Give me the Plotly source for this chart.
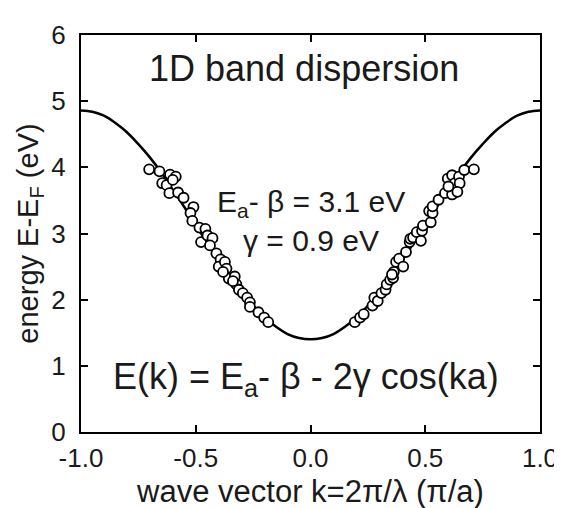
import plotly.graph_objects as go

# fitted band curve
k_curve = [-1.0, -0.95, -0.9, -0.85, -0.8, -0.75, -0.7, -0.65, -0.6, -0.55, -0.5,
           -0.45, -0.4, -0.35, -0.3, -0.25, -0.2, -0.15, -0.1, -0.05, 0.0,
           0.05, 0.1, 0.15, 0.2, 0.25, 0.3, 0.35, 0.4, 0.45, 0.5,
           0.55, 0.6, 0.65, 0.7, 0.75, 0.8, 0.85, 0.9, 0.95, 1.0]
E_curve = [4.86, 4.84, 4.78, 4.67, 4.53, 4.35, 4.15, 3.92, 3.66, 3.40, 3.13,
           2.86, 2.60, 2.34, 2.11, 1.91, 1.73, 1.59, 1.48, 1.42, 1.40,
           1.42, 1.48, 1.59, 1.73, 1.91, 2.11, 2.34, 2.60, 2.86, 3.13,
           3.40, 3.66, 3.92, 4.15, 4.35, 4.53, 4.67, 4.78, 4.84, 4.86]

# measured points (open circles)
k_left = [-0.703, -0.658, -0.612, -0.587, -0.646, -0.627, -0.600, -0.615, -0.577, -0.553,
          -0.510, -0.523, -0.515, -0.484, -0.458, -0.477, -0.449, -0.427, -0.438, -0.410,
          -0.392, -0.400, -0.373, -0.366, -0.356, -0.330, -0.323, -0.312, -0.295, -0.276,
          -0.264, -0.264, -0.227, -0.202, -0.184, -0.381, -0.338]
E_left = [3.97, 3.94, 3.89, 3.86, 3.76, 3.73, 3.81, 3.61, 3.62, 3.54,
          3.40, 3.31, 3.19, 3.09, 3.07, 2.87, 2.97, 2.93, 2.82, 2.70,
          2.61, 2.50, 2.57, 2.47, 2.32, 2.35, 2.23, 2.15, 2.10, 2.03,
          1.96, 1.89, 1.81, 1.73, 1.66, 2.42, 2.28]
k_right = [0.193, 0.216, 0.232, 0.270, 0.278, 0.293, 0.309, 0.327, 0.332, 0.347,
           0.363, 0.360, 0.373, 0.386, 0.404, 0.416, 0.432, 0.435, 0.447, 0.463,
           0.486, 0.490, 0.481, 0.517, 0.524, 0.532, 0.532, 0.558, 0.586, 0.617,
           0.598, 0.617, 0.629, 0.647, 0.650, 0.640, 0.670, 0.712, 0.601, 0.355]
E_right = [1.66, 1.73, 1.78, 1.91, 2.03, 1.98, 2.10, 2.15, 2.23, 2.30,
           2.42, 2.33, 2.57, 2.62, 2.50, 2.72, 2.87, 2.92, 2.94, 3.02,
           3.04, 3.12, 2.89, 3.34, 3.17, 3.31, 3.41, 3.51, 3.61, 3.59,
           3.83, 3.88, 3.76, 3.86, 3.76, 3.63, 3.96, 3.97, 3.71, 2.38]

x_ticks = [-1.0, -0.5, 0.0, 0.5, 1.0]
x_tick_labels = ["-1.0", "-0.5", "0.0", "0.5", "1.0"]
y_ticks = [0, 1, 2, 3, 4, 5, 6]

FONT = "Liberation Sans, Arial, sans-serif"
TXT = "#1a1a1a"

fig = go.Figure()
fig.add_trace(go.Scatter(x=k_curve, y=E_curve, mode="lines",
                         line=dict(color="black", width=2.5, shape="spline"),
                         showlegend=False, hoverinfo="skip"))
fig.add_trace(go.Scatter(x=k_left + k_right, y=E_left + E_right, mode="markers",
                         marker=dict(symbol="circle", size=10, color="white",
                                     line=dict(color="black", width=1.8)),
                         showlegend=False))

ann = [
    dict(x=-0.03, y=5.5, text="1D band dispersion", size=36),
    dict(x=0.0, y=3.45, text="E<sub>a</sub>- β = 3.1 eV", size=30),
    dict(x=0.0, y=2.9, text="γ = 0.9 eV", size=30),
    dict(x=-0.02, y=0.8, text="E(k) = E<sub>a</sub>- β - 2γ cos(ka)", size=36),
]
for a in ann:
    fig.add_annotation(x=a["x"], y=a["y"], xref="x", yref="y", text=a["text"],
                       showarrow=False, xanchor="center", yanchor="middle",
                       font=dict(family=FONT, size=a["size"], color=TXT))

axis_common = dict(showline=True, linecolor="black", linewidth=2, mirror="ticks",
                   ticks="inside", ticklen=7, tickwidth=2, tickcolor="black",
                   showgrid=False, zeroline=False,
                   tickfont=dict(family=FONT, size=26, color=TXT))
fig.update_xaxes(range=[-1, 1], tickvals=x_ticks, ticktext=x_tick_labels,
                 ticklabelstandoff=2,
                 title=dict(text="wave vector k=2π/λ (π/a)",
                            font=dict(family=FONT, size=31, color=TXT), standoff=8),
                 **axis_common)
fig.update_yaxes(range=[0, 6], tickvals=y_ticks, ticklabelstandoff=8,
                 title=dict(text="energy E-E<sub>F</sub> (eV)",
                            font=dict(family=FONT, size=29, color=TXT), standoff=4),
                 **axis_common)
fig.update_layout(width=562, height=508, plot_bgcolor="white", paper_bgcolor="white",
                  margin=dict(l=73, r=19, t=22, b=84), showlegend=False)
fig.write_html("out.html")
